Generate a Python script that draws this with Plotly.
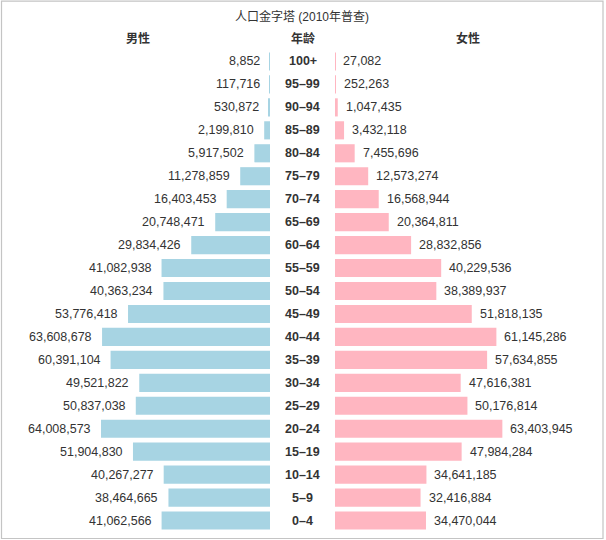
import plotly.graph_objects as go

# ── data: 2010 census population by age group ──
ages = ["100+", "95–99", "90–94", "85–89", "80–84", "75–79", "70–74", "65–69",
        "60–64", "55–59", "50–54", "45–49", "40–44", "35–39", "30–34", "25–29",
        "20–24", "15–19", "10–14", "5–9", "0–4"]
male = [8852, 117716, 530872, 2199810, 5917502, 11278859, 16403453, 20748471,
        29834426, 41082938, 40363234, 53776418, 63608678, 60391104, 49521822,
        50837038, 64008573, 51904830, 40267277, 38464665, 41062566]
female = [27082, 252263, 1047435, 3432118, 7455696, 12573274, 16568944, 20364811,
          28832856, 40229536, 38389937, 51818135, 61145286, 57634855, 47616381,
          50176814, 63403945, 47984284, 34641185, 32416884, 34470044]

W, H = 606, 540
FONT = "Helvetica, Arial, 'Liberation Sans', 'Noto Sans CJK SC', sans-serif"
TXT = "#333333"
BLUE = "#a7d4e3"
PINK = "#ffb6c1"

# plot area: top 50px, bottom 532px
T, B = 50, 532


def py(pix):
    return (B - pix) / (B - T)


def px(pix):
    return pix / W


fig = go.Figure()

fig.add_trace(go.Bar(
    y=ages, x=male, orientation="h", xaxis="x", yaxis="y",
    marker=dict(color=BLUE, line=dict(width=0)), name="男性", showlegend=False,
))
fig.add_trace(go.Bar(
    y=ages, x=female, orientation="h", xaxis="x2", yaxis="y",
    marker=dict(color=PINK, line=dict(width=0)), name="女性", showlegend=False,
))

ann = []
for a, m, f in zip(ages, male, female):
    ann.append(dict(x=m, y=a, xref="x", yref="y", text=f"{m:,}", showarrow=False,
                    xanchor="right", xshift=-8, font=dict(size=12.5, color=TXT, family=FONT)))
    ann.append(dict(x=f, y=a, xref="x2", yref="y", text=f"{f:,}", showarrow=False,
                    xanchor="left", xshift=6, font=dict(size=12.5, color=TXT, family=FONT)))
    ann.append(dict(x=px(302.5), y=a, xref="paper", yref="y", text=f"<b>{a}</b>",
                    showarrow=False, xanchor="center",
                    font=dict(size=12.5, color=TXT, family=FONT)))

# headers + title
for txt, xp in (("<b>男性</b>", 138), ("<b>年龄</b>", 302.5), ("<b>女性</b>", 467.5)):
    ann.append(dict(x=px(xp), y=py(38.5), xref="paper", yref="paper", text=txt,
                    showarrow=False, xanchor="center", yanchor="middle",
                    font=dict(size=12, color=TXT, family=FONT)))
ann.append(dict(x=px(302), y=py(16), xref="paper", yref="paper",
                text="人口金字塔 (2010年普查)", showarrow=False,
                xanchor="center", yanchor="middle",
                font=dict(size=12, color=TXT, family=FONT)))

fig.update_layout(
    width=W, height=H,
    margin=dict(l=0, r=0, t=T, b=H - B, pad=0),
    paper_bgcolor="white", plot_bgcolor="white",
    bargap=0.21,
    xaxis=dict(domain=[px(6), px(270)], range=[100e6, 0], visible=False, fixedrange=True),
    xaxis2=dict(domain=[px(335), px(600)], range=[0, 100.4e6], visible=False, fixedrange=True),
    yaxis=dict(type="category", categoryorder="array", categoryarray=ages[::-1],
               visible=False, range=[-0.5, len(ages) - 0.5], fixedrange=True),
    annotations=ann,
    shapes=[dict(type="rect", xref="paper", yref="paper",
                 x0=px(1.5), x1=px(603), y0=py(538.5), y1=py(1.2),
                 line=dict(color="#c4c4c4", width=1.2))],
    font=dict(family=FONT, color=TXT),
)

# drop the default page margin so the figure sits flush in the window
fig.write_html("out.html", config={"displayModeBar": False},
               post_script="document.body.style.margin='0';")
